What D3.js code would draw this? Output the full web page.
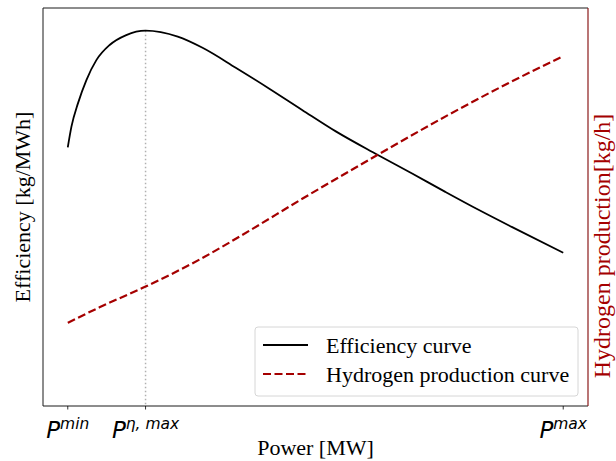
<!DOCTYPE html>
<html>
<head>
<meta charset="utf-8">
<script src="https://cdn.jsdelivr.net/npm/d3@7"></script>
<style>
  body { margin: 0; background: #fff; }
  svg { display: block; }
</style>
</head>
<body>
<div id="chart"></div>
<script>
// power as % of operating range (Pmin = 0, Pmax = 100)
const effPower = [0, 0.74, 2.07, 3.76, 5.77, 8.45, 11.8, 15.7, 22.2, 27.2, 33.9, 40.6, 47.3, 54.1, 62.4, 69.5, 76.2, 82.9, 89.6, 100];
const effValues = [65.0, 70.2, 76.1, 81.9, 86.9, 90.7, 93.2, 94.3, 92.8, 90.0, 85.0, 79.8, 74.4, 69.0, 63.2, 58.4, 53.8, 49.3, 45.0, 38.5];
const h2Power = [0, 6.4, 15.7, 26.6, 36.6, 46.7, 62.4, 76.9, 88.9, 100];
const h2Values = [20.9, 24.8, 30.0, 36.8, 44.0, 51.6, 63.0, 73.2, 81.1, 87.9];
const tickPower = [0, 15.7, 100];
const tickSup = ["min", "η, max", "max"];
const legendLabels = ["Efficiency curve", "Hydrogen production curve"];

const W = 616, H = 461;
const margin = {top: 8, right: 28, bottom: 55, left: 43};
const width = W - margin.left - margin.right;
const height = H - margin.top - margin.bottom;
const red = "#a50000";

const svg = d3.select("#chart").append("svg")
              .attr("width", W)
              .attr("height", H);

const g = svg.append("g")
             .attr("transform", "translate(" + margin.left + "," + margin.top + ")");

const x = d3.scaleLinear().domain([-5, 105]).range([0, width]);
const yL = d3.scaleLinear().domain([0, 100]).range([height, 0]);
const yR = d3.scaleLinear().domain([0, 100]).range([height, 0]);

// dotted line at max efficiency
const peakI = d3.maxIndex(effValues);
g.append("line")
 .attr("x1", x(effPower[peakI])).attr("x2", x(effPower[peakI]))
 .attr("y1", yL(effValues[peakI])).attr("y2", height)
 .attr("stroke", "#b0b0b0")
 .attr("stroke-width", 1.5)
 .attr("stroke-dasharray", "1.5,2.5");

const effLine = d3.line()
                  .x((d, i) => x(effPower[i]))
                  .y(d => yL(d))
                  .curve(d3.curveMonotoneX);

const h2Line = d3.line()
                 .x((d, i) => x(h2Power[i]))
                 .y(d => yR(d))
                 .curve(d3.curveMonotoneX);

g.append("path")
 .datum(effValues)
 .attr("d", effLine)
 .attr("fill", "none")
 .attr("stroke", "#000")
 .attr("stroke-width", 1.8);

g.append("path")
 .datum(h2Values)
 .attr("d", h2Line)
 .attr("fill", "none")
 .attr("stroke", red)
 .attr("stroke-width", 2.2)
 .attr("stroke-dasharray", "8,3.5");

// frame
g.append("path")
 .attr("d", `M ${width} 0 H 0 V ${height} H ${width}`)
 .attr("fill", "none")
 .attr("stroke", "#1a1a1a")
 .attr("stroke-width", 1);
g.append("line")
 .attr("x1", width).attr("x2", width)
 .attr("y1", 0).attr("y2", height)
 .attr("stroke", "#8b1a1a")
 .attr("stroke-width", 1.2);

// x ticks with P^... labels
const ticks = g.selectAll("g.tick")
               .data(tickPower)
               .enter().append("g")
               .attr("class", "tick")
               .attr("transform", d => "translate(" + x(d) + "," + height + ")");

ticks.append("line")
     .attr("y2", 3.5)
     .attr("stroke", "#000")
     .attr("stroke-width", 0.8);

const tl = ticks.append("text")
                .attr("y", 32)
                .attr("text-anchor", "middle")
                .attr("font-family", "DejaVu Sans")
                .attr("font-style", "italic");
tl.append("tspan")
  .attr("font-size", 23)
  .text("P");
tl.append("tspan")
  .attr("font-size", 15.5)
  .attr("dy", -9)
  .text((d, i) => tickSup[i]);

// axis labels
svg.append("text")
   .attr("x", margin.left + width / 2)
   .attr("y", 455)
   .attr("text-anchor", "middle")
   .attr("font-family", "Liberation Serif")
   .attr("font-size", 22)
   .text("Power [MW]");

svg.append("text")
   .attr("transform", "translate(30,207) rotate(-90)")
   .attr("text-anchor", "middle")
   .attr("font-family", "Liberation Serif")
   .attr("font-size", 22)
   .text("Efficiency [kg/MWh]");

svg.append("text")
   .attr("transform", "translate(610,246) rotate(-90)")
   .attr("text-anchor", "middle")
   .attr("font-family", "Liberation Serif")
   .attr("font-size", 24)
   .attr("fill", red)
   .text("Hydrogen production[kg/h]");

// legend
const leg = svg.append("g")
               .attr("transform", "translate(255,327)");
leg.append("rect")
   .attr("width", 323)
   .attr("height", 69)
   .attr("rx", 3)
   .attr("fill", "#fff")
   .attr("fill-opacity", 0.8)
   .attr("stroke", "#d6d6d6");

const items = leg.selectAll("g.item")
                 .data(legendLabels)
                 .enter().append("g")
                 .attr("class", "item")
                 .attr("transform", (d, i) => "translate(0," + (18 + i * 29) + ")");
items.append("line")
     .attr("x1", 8).attr("x2", 53)
     .attr("stroke", (d, i) => i ? red : "#000")
     .attr("stroke-width", (d, i) => i ? 2.2 : 1.8)
     .attr("stroke-dasharray", (d, i) => i ? "8,3.5" : null);
items.append("text")
     .attr("x", 71)
     .attr("dy", "0.35em")
     .attr("font-family", "Liberation Serif")
     .attr("font-size", 22)
     .text(d => d);
</script>
</body>
</html>
